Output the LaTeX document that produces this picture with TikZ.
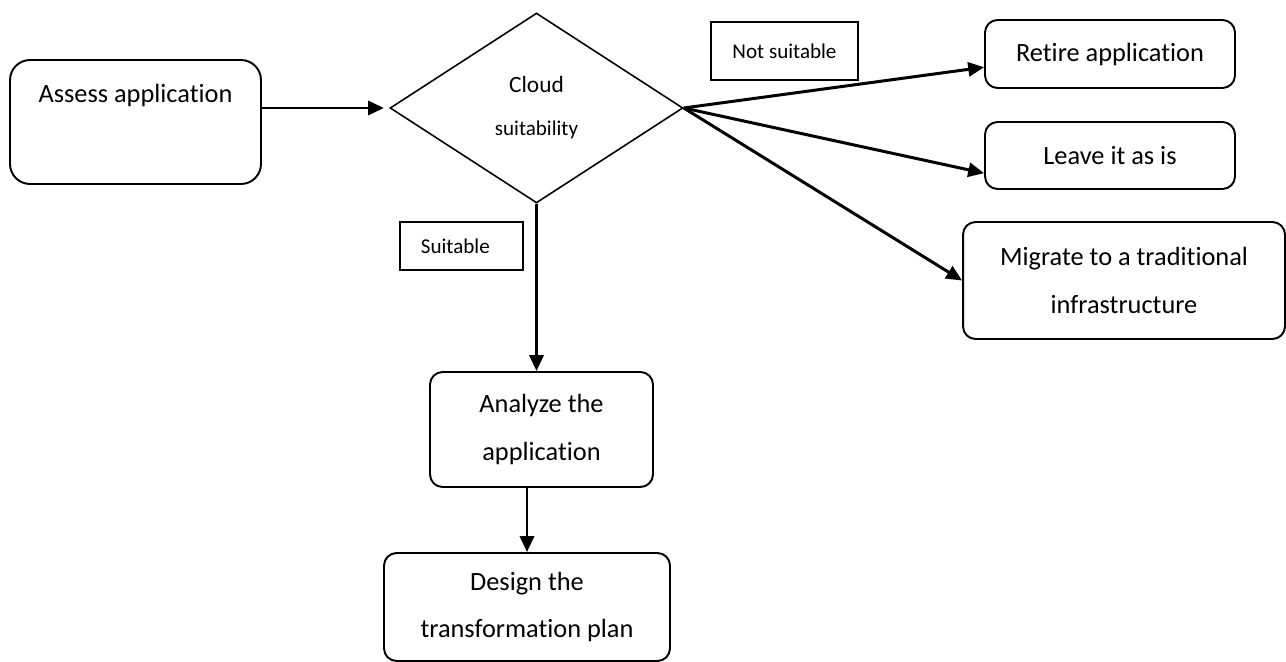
\documentclass[tikz,border=0pt]{standalone}
\usepackage{fontspec}
\setmainfont{Carlito}[Ligatures=NoCommon]
\usetikzlibrary{shapes.geometric,arrows.meta}

\begin{document}
\begin{tikzpicture}[x=0.02cm,y=-0.02cm,
		box/.style={draw=black,line width=1.1pt,rounded corners=0.25cm,align=center,inner sep=0pt,font=\fontsize{15}{27}\selectfont},
		tag/.style={draw=black,line width=1pt,inner sep=0pt,font=\fontsize{12}{14}\selectfont},
		decide/.style={draw=black,diamond,line width=0.9pt,inner sep=0pt,align=center,font=\fontsize{12}{24.5}\selectfont},
		flow/.style={line width=1.7pt,-{Triangle[length=9pt,width=8pt]}}]
		\useasboundingbox (0,0) rectangle (1286,662);
		% boxes
		\node [box,rounded corners=0.4cm,minimum width=5.02cm,minimum height=2.48cm] (assess) at (135.5,122) {Assess application\\[-3pt] \strut};
		\node [decide,minimum width=5.86cm,minimum height=3.8cm] (suit) at (536.5,108)
			{{\fontsize{13.3}{24.5}\selectfont Cloud}\\suitability};
		\node [tag,minimum width=2.94cm,minimum height=1.16cm] (nosuit) at (784.5,51) {Not suitable};
		\node [box,minimum width=5cm,minimum height=1.36cm] (retire) at (1110,54) {Retire application};
		\node [box,minimum width=5cm,minimum height=1.34cm] (leave) at (1110,155.5) {Leave it as is};
		\node [box,minimum width=6.44cm,minimum height=2.34cm] (migrate) at (1124,280.5) {Migrate to a traditional\\infrastructure};
		\node [tag,minimum width=2.46cm,minimum height=0.96cm] (yessuit) at (461.5,246) {Suitable\kern7pt};
		\node [box,minimum width=4.46cm,minimum height=2.3cm] (analyze) at (541.5,429.5) {Analyze the\\application};
		\node [box,minimum width=5.72cm,minimum height=2.16cm] (design) at (527,607) {Design the\\transformation plan};
		% arrows
		\draw [flow,shorten >=3pt] (assess.east |- suit.west) -- (suit.west);
		\draw [flow] (suit.east) -- (retire.186);
		\draw [flow] (suit.east) -- (leave.188);
		\draw [flow] (suit.east) -- (migrate.west);
		\draw [flow] (suit.south) -- (suit.south |- analyze.north);
		\draw [flow] (design.north |- analyze.south) -- (design.north);
		\end{tikzpicture}
\end{document}
